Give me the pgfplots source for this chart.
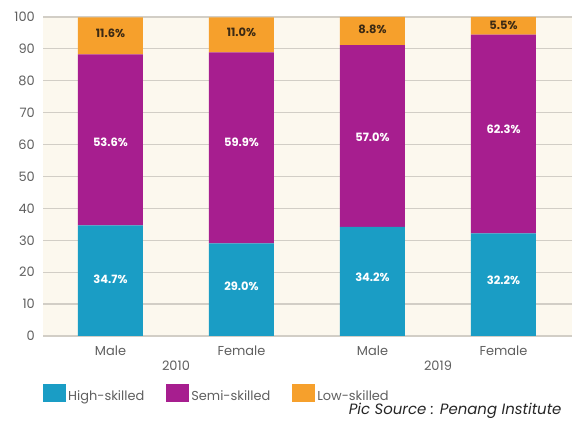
\documentclass[border=0pt]{standalone}
\usepackage{fontspec}
\setmainfont{Poppins}
\usepackage{pgfplots}
\pgfplotsset{compat=1.18}

\definecolor{high}{RGB}{26,157,197}
\definecolor{semi}{RGB}{167,30,143}
\definecolor{low}{RGB}{246,160,44}
\definecolor{cream}{RGB}{252,248,238}
\definecolor{gridc}{RGB}{210,206,198}
\definecolor{ticktext}{RGB}{95,95,95}
\definecolor{lowtext}{RGB}{60,42,20}

\pgfplotsset{
  chartframe/.style={
    at={(43bp,87bp)}, anchor=south west,
    scale only axis, width=529bp, height=319bp,
    xmin=-0.515, xmax=3.523, ymin=0, ymax=100,
  },
}

\begin{document}
\begin{tikzpicture}
\path[use as bounding box] (0bp,0bp) rectangle (572bp,423bp);
\begin{axis}[
  chartframe,
  ybar stacked, bar width=65bp,
  axis background/.style={fill=cream},
  axis line style={draw=none},
  major tick length=0pt,
  /pgf/number format/assume math mode=true,
  ytick={0,10,...,100},
  ymajorgrids, grid style={gridc, line width=1.2bp},
  xtick={0,1,2,3}, xticklabels={Male,Female,Male,Female},
  extra x ticks={0.5,2.5}, extra x tick labels={2010,2019},
  extra x tick style={xticklabel style={yshift=-15bp}},
  tick label style={font=\fontsize{13}{15}\selectfont, text=ticktext},
  yticklabel style={anchor=east, inner sep=0pt, xshift=-8bp},
  xticklabel style={anchor=center, inner sep=0pt, yshift=-15bp},
  legend style={at={(0,0)}, anchor=west, yshift=-58bp, draw=none, fill=none,
    inner sep=0pt, font=\fontsize{13}{15}\selectfont, text=ticktext,
    /tikz/every even column/.append style={column sep=20bp}},
  legend columns=3,
  legend image code/.code={\fill[#1] (0bp,-5bp) rectangle (23bp,13bp);},
]
% High-skilled
\addplot[fill=high, draw=none] coordinates {(0,34.7) (1,29.0) (2,34.2) (3,32.2)};
% Semi-skilled
\addplot[fill=semi, draw=none] coordinates {(0,53.6) (1,59.9) (2,57.0) (3,62.3)};
% Low-skilled
\addplot[fill=low, draw=none] coordinates {(0,11.6) (1,11.0) (2,8.8) (3,5.5)};
\legend{High-skilled, Semi-skilled, Low-skilled}
\end{axis}

% value labels, at the heights where the reference sets them
\begin{axis}[
  chartframe, hide axis,
  nodes near coords, point meta=explicit symbolic,
  every node near coord/.append style={anchor=center, inner sep=0pt,
    font=\bfseries\fontsize{11.5}{13}\selectfont},
]
\addplot[draw=none, mark=none, every node near coord/.append style={text=white}]
  coordinates {(0,17.7) [34.7\%] (1,15.6) [29.0\%] (2,18.3) [34.2\%] (3,17.5) [32.2\%]};
\addplot[draw=none, mark=none, every node near coord/.append style={text=white}]
  coordinates {(0,60.6) [53.6\%] (1,60.6) [59.9\%] (2,62.3) [57.0\%] (3,64.8) [62.3\%]};
\addplot[draw=none, mark=none, every node near coord/.append style={text=lowtext}]
  coordinates {(0,94.9) [11.6\%] (1,95.3) [11.0\%] (2,96.0) [8.8\%] (3,97.4) [5.5\%]};
\end{axis}

\node[anchor=base east, font=\itshape\fontsize{15}{17}\selectfont, text=black!85]
  at (565bp,9bp) {Pic Source : Penang Institute};
\end{tikzpicture}
\end{document}
